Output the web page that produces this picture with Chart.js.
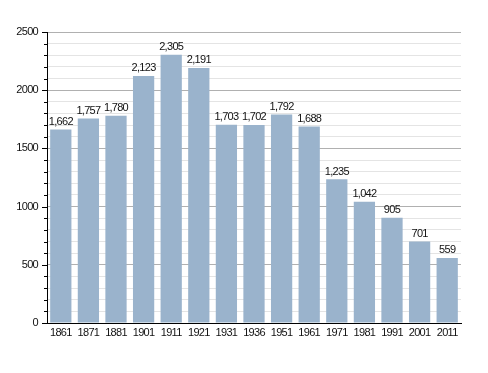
<!DOCTYPE html>
<html>
<head>
<meta charset="utf-8">
<script src="https://cdn.jsdelivr.net/npm/chart.js@4"></script>
<style>
  html, body { margin: 0; padding: 0; background: #fff; }
  #wrap { width: 488px; height: 373px; }
</style>
</head>
<body>
<div id="wrap"><canvas id="popChart" width="488" height="373"></canvas></div>
<script>
// census years and population
const years = ["1861", "1871", "1881", "1901", "1911", "1921", "1931", "1936", "1951", "1961", "1971", "1981", "1991", "2001", "2011"];
const population = [1662, 1757, 1780, 2123, 2305, 2191, 1703, 1702, 1792, 1688, 1235, 1042, 905, 701, 559];

const FONT = "'Liberation Sans', Arial, sans-serif";
const SPACING = "-0.7px";

// tighter text like the original, applied before anything is drawn
const tightText = {
    id: "tightText",
    beforeDraw(chart) {
        chart.ctx.letterSpacing = SPACING;
    }
};

// value labels above each bar
const valueLabels = {
    id: "valueLabels",
    afterDatasetsDraw(chart) {
        const ctx = chart.ctx;
        const meta = chart.getDatasetMeta(0);
        ctx.save();
        ctx.letterSpacing = SPACING;
        ctx.font = "11px " + FONT;
        ctx.fillStyle = "#111";
        ctx.textAlign = "center";
        ctx.textBaseline = "bottom";
        meta.data.forEach((bar, i) => {
            ctx.fillText(population[i].toLocaleString("en-US"), bar.x, bar.y - 2);
        });
        ctx.restore();
    }
};

// outward ticks on y axis: long for major, short for minor
const yTicks = {
    id: "yTicks",
    afterDraw(chart) {
        const ctx = chart.ctx;
        const y = chart.scales.y;
        const left = chart.chartArea.left;
        ctx.save();
        ctx.strokeStyle = "#000";
        ctx.lineWidth = 1;
        for (let v = 0; v <= 2500; v += 100) {
            const py = Math.round(y.getPixelForValue(v)) + 0.5;
            const len = v % 500 === 0 ? 5 : 3;
            ctx.beginPath();
            ctx.moveTo(left - len, py);
            ctx.lineTo(left, py);
            ctx.stroke();
        }
        ctx.restore();
    }
};

new Chart("popChart", {
    type: "bar",
    data: {
        labels: years,
        datasets: [{
            data: population,
            backgroundColor: "#9ab3cc",
            borderWidth: 0,
            barPercentage: 0.77,
            categoryPercentage: 1.0
        }]
    },
    options: {
        responsive: false,
        animation: false,
        layout: { padding: { top: 32, right: 27, bottom: 0, left: 0 } },
        plugins: { legend: { display: false }, tooltip: { enabled: false } },
        scales: {
            x: {
                afterFit: (scale) => { scale.height = 50; },
                grid: { display: false, drawTicks: false },
                border: { color: "#000", width: 1 },
                ticks: { color: "#111", font: { family: FONT, size: 11 }, padding: 3, maxRotation: 0, autoSkip: false }
            },
            y: {
                min: 0,
                max: 2500,
                afterFit: (scale) => { scale.width = 47; },
                border: { color: "#000", width: 1 },
                grid: {
                    drawTicks: false,
                    color: (c) => (c.tick && c.tick.value % 500 === 0) ? "#b0b0b0" : "#e4e4e4"
                },
                ticks: {
                    stepSize: 100,
                    autoSkip: false,
                    padding: 9,
                    color: "#111",
                    font: { family: FONT, size: 11 },
                    callback: (v) => v % 500 === 0 ? String(v) : ""
                }
            }
        }
    },
    plugins: [tightText, valueLabels, yTicks]
});
</script>
</body>
</html>
